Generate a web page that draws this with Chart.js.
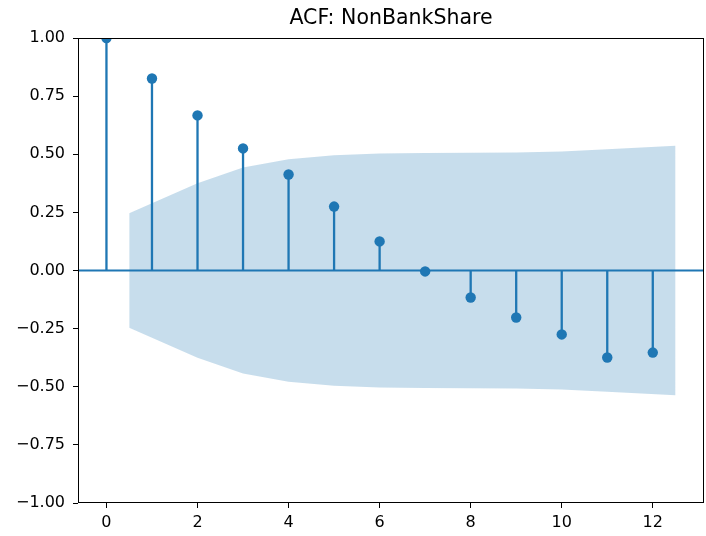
<!DOCTYPE html>
<html>
<head>
    <meta charset="UTF-8">
    <title>ACF: NonBankShare</title>
    <script src="https://cdn.jsdelivr.net/npm/chart.js"></script>
    <style>
        body { margin: 0; background: #fff; }
        #wrap { width: 706px; height: 536px; }
    </style>
</head>
<body>
    <div id="wrap">
        <canvas id="acfChart" width="706" height="536"></canvas>
    </div>

    <script>
        // lags and autocorrelation values
        const lags = [0, 1, 2, 3, 4, 5, 6, 7, 8, 9, 10, 11, 12];
        const acfValues = [1.0, 0.826, 0.667, 0.525, 0.413, 0.275, 0.125, -0.004, -0.116, -0.202, -0.275, -0.374, -0.353];

        // 95% confidence band (statsmodels shifts the first/last x by 0.5)
        const bandX = [0.5, 2, 3, 4, 5, 6, 7, 8, 9, 10, 11, 12.5];
        const bandUpper = [0.246, 0.375, 0.443, 0.478, 0.496, 0.503, 0.505, 0.506, 0.508, 0.512, 0.522, 0.537];
        const bandLower = [-0.246, -0.375, -0.443, -0.478, -0.496, -0.503, -0.505, -0.506, -0.508, -0.512, -0.522, -0.537];

        const xTicks = [0, 2, 4, 6, 8, 10, 12];
        const xLimits = [-0.625, 13.125];
        const yLimits = [-1, 1];
        const chartTitle = 'ACF: NonBankShare';

        const blue = '#1f77b4';
        const bandColor = 'rgba(31, 119, 180, 0.25)';

        Chart.defaults.font.family = "'DejaVu Sans', sans-serif";
        Chart.defaults.color = '#000';

        // stems: (lag,0) -> (lag,value), broken by a null point
        const stemPoints = [];
        lags.forEach((k, i) => {
            stemPoints.push({ x: k, y: 0 }, { x: k, y: acfValues[i] }, { x: k, y: null });
        });

        // frame on all four sides like matplotlib spines, title centred over the axes
        const frame = {
            id: 'frame',
            afterDatasetsDraw(chart) {
                const { ctx, chartArea: a } = chart;
                ctx.save();
                ctx.strokeStyle = '#000';
                ctx.lineWidth = 1;
                ctx.strokeRect(Math.round(a.left) + 0.5, Math.round(a.top) + 0.5,
                    Math.round(a.right - a.left) - 1, Math.round(a.bottom - a.top) - 1);
                ctx.fillStyle = '#000';
                ctx.font = "20.5px 'DejaVu Sans'";
                ctx.textAlign = 'center';
                ctx.textBaseline = 'middle';
                ctx.fillText(chartTitle, (a.left + a.right) / 2, 19);
                ctx.restore();
            }
        };

        new Chart(document.getElementById('acfChart'), {
            type: 'line',
            data: {
                datasets: [
                    {
                        label: 'band upper',
                        data: bandX.map((x, i) => ({ x: x, y: bandUpper[i] })),
                        borderWidth: 0,
                        pointRadius: 0,
                        backgroundColor: bandColor,
                        fill: '+1'
                    },
                    {
                        label: 'band lower',
                        data: bandX.map((x, i) => ({ x: x, y: bandLower[i] })),
                        borderWidth: 0,
                        pointRadius: 0,
                        fill: false
                    },
                    {
                        label: 'acf',
                        data: lags.map((k, i) => ({ x: k, y: acfValues[i] })),
                        showLine: false,
                        pointRadius: 5.2,
                        pointBackgroundColor: blue,
                        pointBorderWidth: 0,
                        clip: 0
                    },
                    {
                        label: 'zero',
                        data: [{ x: xLimits[0], y: 0 }, { x: xLimits[1], y: 0 }],
                        borderColor: blue,
                        borderWidth: 2.2,
                        pointRadius: 0
                    },
                    {
                        label: 'stems',
                        data: stemPoints,
                        borderColor: blue,
                        borderWidth: 2.3,
                        pointRadius: 0,
                        spanGaps: false
                    }
                ]
            },
            options: {
                responsive: false,
                animation: false,
                layout: { autoPadding: false, padding: { top: 38, right: 2, bottom: 0, left: 0 } },
                plugins: {
                    legend: { display: false },
                    tooltip: { enabled: false },
                    title: { display: false }
                },
                scales: {
                    x: {
                        type: 'linear',
                        min: xLimits[0],
                        max: xLimits[1],
                        afterBuildTicks: (scale) => {
                            scale.ticks = xTicks.map(v => ({ value: v }));
                        },
                        afterFit: (scale) => { scale.height = 33; },
                        grid: { drawOnChartArea: false, tickLength: 5, color: '#000' },
                        border: { display: false },
                        ticks: { font: { size: 16 }, padding: 5, maxRotation: 0, color: '#000' }
                    },
                    y: {
                        min: yLimits[0],
                        max: yLimits[1],
                        afterFit: (scale) => { scale.width = 78; },
                        grid: { drawOnChartArea: false, tickLength: 5, color: '#000' },
                        border: { display: false },
                        ticks: {
                            stepSize: 0.25,
                            font: { size: 16 },
                            padding: 8,
                            color: '#000',
                            callback: (v) => v.toFixed(2).replace('-', '\u2212')
                        }
                    }
                }
            },
            plugins: [frame]
        });
    </script>
</body>
</html>
